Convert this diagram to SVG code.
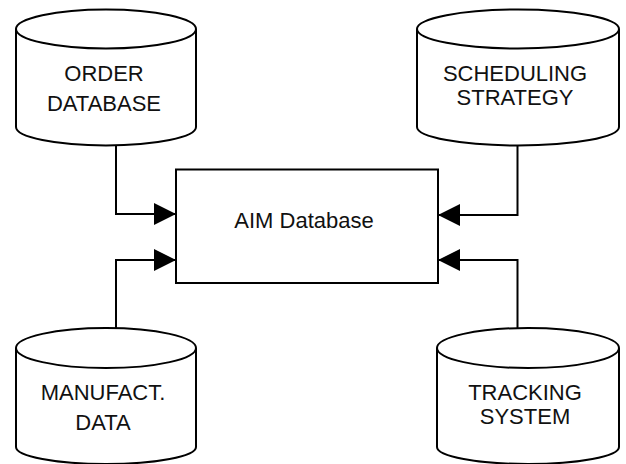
<svg xmlns="http://www.w3.org/2000/svg" width="626" height="464" viewBox="0 0 626 464">
<style>
.s{fill:#fff;stroke:#000;stroke-width:2}
.c{fill:none;stroke:#000;stroke-width:2}
.t{font-family:"Liberation Sans",Arial,sans-serif;font-size:22px;fill:#111;text-anchor:middle}
</style>
<defs>
<marker id="ah" markerUnits="userSpaceOnUse" markerWidth="22" markerHeight="22" viewBox="0 0 22 22" refX="22" refY="11" orient="auto">
<path d="M0,0 L22,11 L0,22 Z" fill="#000"/>
</marker>
</defs>
<rect width="626" height="464" fill="#fff"/>
<g id="connectors">
<path class="c" d="M116,145 V214 H176" marker-end="url(#ah)"/>
<path class="c" d="M116,328 V260 H176" marker-end="url(#ah)"/>
<path class="c" d="M517.5,145 V215 H438" marker-end="url(#ah)"/>
<path class="c" d="M517.5,328 V260 H438" marker-end="url(#ah)"/>
</g>
<g id="order">
<path class="s" d="M16,29 V127 A90,18.5 0 0 0 196,127 V29"/>
<ellipse class="s" cx="106" cy="29" rx="90" ry="19.5"/>
<text class="t" x="104" y="81">ORDER</text>
<text class="t" x="104" y="111">DATABASE</text>
</g>
<g id="scheduling">
<path class="s" d="M417,29 V127 A101,18.5 0 0 0 619,127 V29"/>
<ellipse class="s" cx="518" cy="29" rx="101" ry="19.5"/>
<text class="t" x="515" y="81">SCHEDULING</text>
<text class="t" x="515" y="104.5">STRATEGY</text>
</g>
<g id="aim">
<rect class="s" x="176" y="169.5" width="262" height="113.5"/>
<text class="t" x="304" y="228">AIM Database</text>
</g>
<g id="manufact">
<path class="s" d="M16,348 V447 A90,17 0 0 0 196,447 V348"/>
<ellipse class="s" cx="106" cy="348" rx="90" ry="20"/>
<text class="t" x="103" y="400">MANUFACT.</text>
<text class="t" x="103" y="430">DATA</text>
</g>
<g id="tracking">
<path class="s" d="M437,348 V447 A91,17 0 0 0 619,447 V348"/>
<ellipse class="s" cx="528" cy="348" rx="91" ry="20"/>
<text class="t" x="525" y="400">TRACKING</text>
<text class="t" x="525" y="424">SYSTEM</text>
</g>
</svg>
